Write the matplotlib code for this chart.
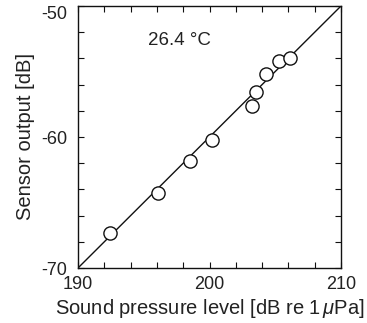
import matplotlib
matplotlib.use("Agg")
import matplotlib.pyplot as plt
import numpy as np
from matplotlib.ticker import MultipleLocator

plt.rcParams['font.family'] = ['Liberation Sans', 'DejaVu Sans']
plt.rcParams['axes.unicode_minus'] = False
plt.rcParams['mathtext.fontset'] = 'custom'
plt.rcParams['mathtext.rm'] = 'Liberation Sans'
plt.rcParams['mathtext.it'] = 'Liberation Sans:italic'

spl = [192.4, 196.1, 198.5, 200.2, 203.2, 203.5, 204.3, 205.3, 206.1]
sensor = [-67.3, -64.3, -61.85, -60.25, -57.6, -56.6, -55.2, -54.2, -54.0]
fit_x = [190, 210]
fit_y = [-70, -50]
xticks = [190, 200, 210]
yticks = [-70, -60, -50]
label_text = "26.4 \u00b0C"

fig = plt.figure(figsize=(3.67, 3.23), dpi=100)
ax = fig.add_axes([78/367, 1-268/323, 263/367, 262/323])
tc = '#222222'
ax.plot(fit_x, fit_y, color='#111111', lw=1.0, zorder=2)
ax.plot(spl, sensor, 'o', ms=9.5, mfc='white', mec='#111111', mew=1.0, zorder=3)
ax.set_xlim(190, 210)
ax.set_ylim(-70, -50)
ax.set_xticks(xticks)
ax.set_yticks(yticks)
ax.xaxis.set_minor_locator(MultipleLocator(2))
ax.yaxis.set_minor_locator(MultipleLocator(2))
ax.tick_params(which='both', direction='in', top=True, right=True, length=4, width=0.8, colors='#111111', labelcolor=tc, labelsize=13)
ax.tick_params(axis='x', pad=6)
ax.tick_params(axis='y', pad=8)
for s in ax.spines.values():
    s.set_linewidth(1.0)
    s.set_color('#111111')
fig.canvas.draw()
for lab in ax.get_yticklabels():
    if lab.get_text() == '-50':
        lab.set_va('top')
ax.text(197.72, -52.6, label_text, ha='center', va='center', fontsize=13.5, color=tc)
ax.set_xlabel("Sound pressure level [dB re 1$\\,\\it{\\mu}$Pa]", fontsize=14.5, color=tc, labelpad=2.5)
ax.set_ylabel("Sensor output [dB]", fontsize=14.5, color=tc, labelpad=4)
fig.savefig("out.png", dpi=100)
